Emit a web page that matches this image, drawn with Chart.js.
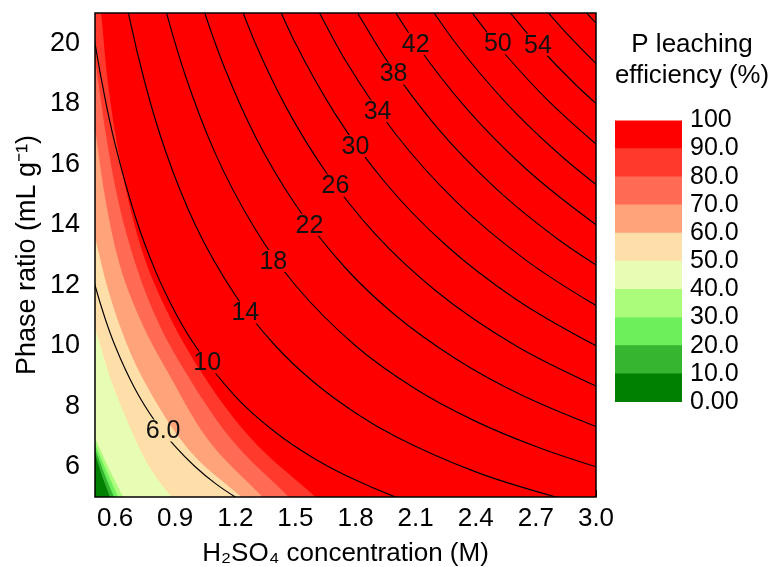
<!DOCTYPE html>
<html>
<head>
<meta charset="utf-8">
<script src="https://cdn.jsdelivr.net/npm/chart.js@4.4.1/dist/chart.umd.min.js"></script>
<style>
  html, body { margin: 0; padding: 0; background: #fff; }
  #wrap { position: relative; width: 769px; height: 567px; }
  #main { position: absolute; left: 0; top: 0; }
  #bar { position: absolute; left: 595px; top: 0; }
</style>
</head>
<body>
<div id="wrap">
  <canvas id="main" width="769" height="567"></canvas>
  <canvas id="bar" width="174" height="420"></canvas>
</div>
<script>
Chart.defaults.font.family = "'Liberation Sans', Arial, sans-serif";
Chart.defaults.color = '#000';

// colour bands of P leaching efficiency (%), low to high
const bandEdges = [0, 10, 20, 30, 40, 50, 60, 70, 80, 90, 100];
const bandLabels = ['0.00', '10.0', '20.0', '30.0', '40.0', '50.0', '60.0', '70.0', '80.0', '90.0', '100'];
const bandColors = ['#008000', '#36b530', '#6cef5a', '#acfc7b', '#e7fdb3', '#ffdfa9', '#ffa37a', '#ff6b55', '#ff3a2c', '#ff0000'];

// where each band ends, [H2SO4 M, phase ratio]
const edge10 = [[0.5, 6.45], [0.535, 5.7], [0.575, 5]];
const edge20 = [[0.5, 6.6], [0.545, 5.8], [0.595, 5]];
const edge30 = [[0.5, 6.75], [0.555, 5.9], [0.615, 5]];
const edge40 = [[0.5, 6.95], [0.565, 6.0], [0.64, 5]];
const edge50 = [[0.5, 10.6], [0.573, 9], [0.662, 7.5], [0.771, 6], [0.88, 5]];
const edge60 = [[0.5, 13.6], [0.559, 12], [0.662, 10], [0.817, 8], [0.977, 6.5], [1.232, 5]];
const edge70 = [[0.5, 17.2], [0.548, 15], [0.61, 13], [0.717, 11], [0.874, 9], [1.052, 7], [1.336, 5]];
const edge80 = [[0.5, 19.5], [0.554, 17], [0.609, 15], [0.688, 13], [0.8, 11], [0.964, 9], [1.169, 7], [1.467, 5]];
const edge90 = [[0.5, 22.2], [0.53, 21], [0.559, 19], [0.602, 17], [0.66, 15], [0.742, 13], [0.87, 11], [1.043, 9], [1.27, 7], [1.6, 5]];
const bandEdgeLines = [edge10, edge20, edge30, edge40, edge50, edge60, edge70, edge80, edge90];

// black contour lines (acid/solid ratio)
const ratio6 = [[0.45, 13.33], [0.5, 12], [0.55, 10.91], [0.6, 10], [0.7, 8.57], [0.8, 7.5], [0.9, 6.67], [1.0, 6], [1.1, 5.45], [1.2, 5], [1.3, 4.62]];
const ratio10 = [[0.45, 22.22], [0.5, 20], [0.55, 18.18], [0.6, 16.67], [0.7, 14.29], [0.8, 12.5], [0.9, 11.11], [1.0, 10], [1.2, 8.33], [1.4, 7.14], [1.6, 6.25], [1.8, 5.56], [2.0, 5], [2.2, 4.55]];
const ratio14 = [[0.6, 23.33], [0.67, 20.9], [0.75, 18.67], [0.85, 16.47], [1.0, 14], [1.2, 11.67], [1.4, 10], [1.6, 8.75], [1.8, 7.78], [2.0, 7], [2.4, 5.83], [2.8, 5], [3.1, 4.52]];
const ratio18 = [[0.8, 22.5], [0.86, 20.93], [0.95, 18.95], [1.1, 16.36], [1.3, 13.85], [1.5, 12], [1.8, 10], [2.1, 8.57], [2.4, 7.5], [2.7, 6.67], [3.0, 6], [3.1, 5.81]];
const ratio22 = [[1.0, 22], [1.05, 20.95], [1.15, 19.13], [1.3, 16.92], [1.5, 14.67], [1.75, 12.57], [2.0, 11], [2.3, 9.57], [2.6, 8.46], [3.0, 7.33], [3.1, 7.1]];
const ratio26 = [[1.2, 21.67], [1.3, 20], [1.45, 17.93], [1.65, 15.76], [1.9, 13.68], [2.2, 11.82], [2.6, 10], [3.0, 8.67], [3.1, 8.39]];
const ratio30 = [[1.4, 21.43], [1.5, 20], [1.7, 17.65], [1.95, 15.38], [2.25, 13.33], [2.6, 11.54], [3.0, 10], [3.1, 9.68]];
const ratio34 = [[1.6, 21.25], [1.75, 19.43], [2.0, 17], [2.3, 14.78], [2.65, 12.83], [3.0, 11.33], [3.1, 10.97]];
const ratio38 = [[1.8, 21.11], [1.95, 19.49], [2.2, 17.27], [2.5, 15.2], [2.8, 13.57], [3.0, 12.67], [3.1, 12.26]];
const ratio42 = [[1.95, 21.54], [2.1, 20], [2.35, 17.87], [2.65, 15.85], [3.0, 14], [3.1, 13.55]];
const ratio46 = [[2.15, 21.4], [2.3, 20], [2.55, 18.04], [2.8, 16.43], [3.0, 15.33], [3.1, 14.84]];
const ratio50 = [[2.35, 21.28], [2.5, 20], [2.75, 18.18], [3.0, 16.67], [3.1, 16.13]];
const ratio54 = [[2.55, 21.18], [2.7, 20], [2.9, 18.62], [3.1, 17.42]];
const ratio58 = [[2.7, 21.48], [2.85, 20.35], [3.0, 19.33], [3.1, 18.71]];
const ratio62 = [[2.9, 21.38], [3.0, 20.67], [3.1, 20]];
const ratioLines = [ratio6, ratio10, ratio14, ratio18, ratio22, ratio26, ratio30, ratio34, ratio38, ratio42, ratio46, ratio50, ratio54, ratio58, ratio62];

// labels sitting on the contour lines
const ratioLabelText = ['6.0', '10', '14', '18', '22', '26', '30', '34', '38', '42', '50', '54'];
const ratioLabelX = [0.84, 1.06, 1.25, 1.39, 1.57, 1.70, 1.80, 1.91, 1.99, 2.10, 2.51, 2.71];
const ratioLabelY = [7.2, 9.45, 11.1, 12.8, 14.0, 15.3, 16.6, 17.75, 19.0, 19.98, 20.0, 19.95];

// axis ticks
const xMajor = [0.6, 0.9, 1.2, 1.5, 1.8, 2.1, 2.4, 2.7, 3.0];
const xMinor = [0.75, 1.05, 1.35, 1.65, 1.95, 2.25, 2.55, 2.85];
const yMajor = [6, 8, 10, 12, 14, 16, 18, 20];
const yMinor = [7, 9, 11, 13, 15, 17, 19];

const toPts = arr => arr.map(p => ({ x: p[0], y: p[1] }));
const isIn = (list, v) => list.some(t => Math.abs(t - v) < 1e-6);
const labelFont = "25px 'Liberation Sans', Arial, sans-serif";

const datasets = [];
ratioLines.forEach(line => {
  datasets.push({
    kind: 'contour',
    data: toPts(line),
    borderColor: '#000',
    borderWidth: 1.15,
    fill: false,
    order: 0
  });
});
bandEdgeLines.forEach((edge, i) => {
  datasets.push({
    kind: 'band',
    data: toPts(edge),
    borderWidth: 0,
    borderColor: 'rgba(0,0,0,0)',
    backgroundColor: bandColors[i],
    fill: 'start',
    order: i + 1
  });
});

// label boxes in pixels, so the contour lines can leave a gap there
function labelBoxes(chart) {
  const { ctx, scales: { x, y } } = chart;
  ctx.save();
  ctx.font = labelFont;
  const boxes = ratioLabelText.map((t, i) => {
    const w = ctx.measureText(t).width + 4;
    return { t, px: x.getPixelForValue(ratioLabelX[i]), py: y.getPixelForValue(ratioLabelY[i]), w, h: 22 };
  });
  ctx.restore();
  return boxes;
}

const plotDecor = {
  id: 'plotDecor',
  beforeDatasetsDraw(chart) {
    const { ctx, chartArea: a } = chart;
    ctx.save();
    ctx.fillStyle = bandColors[9];
    ctx.fillRect(a.left, a.top, a.right - a.left, a.bottom - a.top);
    ctx.restore();
    chart.$boxes = labelBoxes(chart);
  },
  beforeDatasetDraw(chart, args) {
    if (chart.data.datasets[args.index].kind !== 'contour') return;
    const ctx = chart.ctx;
    ctx.save();
    ctx.beginPath();
    ctx.rect(0, 0, chart.width, chart.height);
    chart.$boxes.forEach(b => ctx.rect(b.px - b.w / 2, b.py - b.h / 2, b.w, b.h));
    ctx.clip('evenodd');
  },
  afterDatasetDraw(chart, args) {
    if (chart.data.datasets[args.index].kind !== 'contour') return;
    chart.ctx.restore();
  },
  afterDatasetsDraw(chart) {
    const ctx = chart.ctx;
    ctx.save();
    ctx.font = labelFont;
    ctx.textAlign = 'center';
    ctx.textBaseline = 'middle';
    ctx.fillStyle = '#111';
    chart.$boxes.forEach(b => ctx.fillText(b.t, b.px, b.py + 1));
    ctx.restore();
  },
  afterDraw(chart) {
    const { ctx, chartArea: a } = chart;
    ctx.save();
    ctx.strokeStyle = '#000';
    ctx.lineWidth = 1.5;
    ctx.strokeRect(a.left, a.top, a.right - a.left, a.bottom - a.top);
    ctx.restore();
  }
};

new Chart(document.getElementById('main'), {
  type: 'line',
  data: { datasets: datasets },
  options: {
    responsive: false,
    animation: false,
    devicePixelRatio: 1,
    layout: { padding: { left: 0, right: 173, top: 13, bottom: 0 } },
    elements: {
      point: { radius: 0, hoverRadius: 0 },
      line: { cubicInterpolationMode: 'monotone', capBezierPoints: false }
    },
    plugins: { legend: { display: false }, tooltip: { enabled: false } },
    scales: {
      x: {
        type: 'linear',
        min: 0.5,
        max: 3.0,
        z: 1,
        afterBuildTicks: s => { s.ticks = xMajor.concat(xMinor).sort((a, b) => a - b).map(v => ({ value: v })); },
        afterFit: s => { s.height = 70; s.paddingLeft = 0; s.paddingRight = 0; },
        ticks: {
          autoSkip: false,
          maxRotation: 0,
          padding: 13,
          font: { size: 26, family: "'Liberation Sans Narrow', 'Liberation Sans', Arial, sans-serif" },
          callback: v => isIn(xMajor, v) ? v.toFixed(1) : ''
        },
        grid: { drawOnChartArea: false, drawTicks: true, tickLength: -7, color: '#000', tickWidth: 1 },
        border: { display: false },
        title: {
          display: true,
          text: 'H\u2082SO\u2084 concentration (M)',
          font: { size: 26, lineHeight: 1 },
          padding: { top: 0, bottom: 0 }
        }
      },
      y: {
        type: 'linear',
        min: 5,
        max: 21,
        z: 1,
        afterBuildTicks: s => { s.ticks = yMajor.concat(yMinor).sort((a, b) => a - b).map(v => ({ value: v })); },
        afterFit: s => { s.width = 95; s.paddingTop = 0; s.paddingBottom = 0; },
        ticks: {
          autoSkip: false,
          padding: 22,
          font: { size: 27 },
          callback: v => isIn(yMajor, v) ? String(v) : ''
        },
        grid: { drawOnChartArea: false, drawTicks: true, tickLength: -7, color: '#000', tickWidth: 1 },
        border: { display: false },
        title: {
          display: true,
          text: 'Phase ratio (mL g\u207B\u00B9)',
          font: { size: 27, lineHeight: 1 },
          padding: { top: 14, bottom: 0 }
        }
      }
    }
  },
  plugins: [plotDecor]
});

// colour bar legend
new Chart(document.getElementById('bar'), {
  type: 'bar',
  data: {
    labels: [''],
    datasets: bandColors.map((c, i) => ({
      data: [bandEdges[i + 1] - bandEdges[i]],
      backgroundColor: c,
      borderWidth: 0,
      barPercentage: 1,
      categoryPercentage: 1
    }))
  },
  options: {
    responsive: false,
    animation: false,
    devicePixelRatio: 1,
    layout: { padding: { left: 20, bottom: 18 } },
    plugins: {
      legend: { display: false },
      tooltip: { enabled: false },
      title: {
        display: true,
        text: ['P leaching', 'efficiency (%)'],
        font: { size: 26, weight: 'normal', lineHeight: 1.2 },
        color: '#000',
        padding: { top: 29, bottom: 29 }
      }
    },
    scales: {
      x: { stacked: true, display: false },
      y: {
        stacked: true,
        position: 'right',
        min: 0,
        max: 100,
        afterBuildTicks: s => { s.ticks = bandEdges.map(v => ({ value: v })); },
        afterFit: s => { s.width = 87; s.paddingTop = 0; s.paddingBottom = 0; },
        ticks: {
          autoSkip: false,
          padding: 8,
          font: { size: 25 },
          callback: (v, i) => bandLabels[i]
        },
        grid: { display: false, drawTicks: false },
        border: { display: false }
      }
    }
  }
});
</script>
</body>
</html>
